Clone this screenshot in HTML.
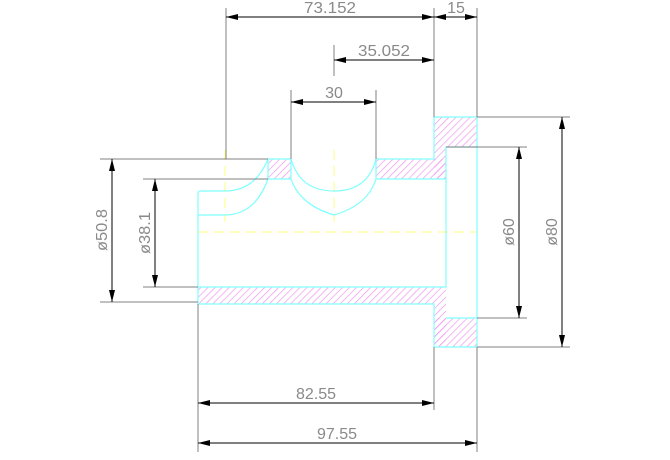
<!DOCTYPE html>
<html><head><style>
html,body{margin:0;padding:0;background:#fff;}
svg{display:block;}
text{font-family:"Liberation Sans",sans-serif;font-size:16px;fill:#8a8a8a;}
</style></head><body>
<svg width="670" height="460" viewBox="0 0 670 460" xmlns="http://www.w3.org/2000/svg">
<defs>
<pattern id="h" width="5" height="5" patternUnits="userSpaceOnUse" patternTransform="rotate(45)">
<line x1="0" y1="0" x2="0" y2="5" stroke="#f090f0" stroke-width="1.3"/>
</pattern>
<marker id="a" viewBox="0 0 12 6" refX="12" refY="3" markerWidth="12" markerHeight="6" orient="auto-start-reverse" markerUnits="userSpaceOnUse"><path d="M0,0L12,3L0,6z" fill="#000"/></marker>
</defs>
<rect width="670" height="460" fill="#fefffe"/>
<g fill="url(#h)">
<rect x="268" y="159" width="23" height="20"/>
<rect x="376" y="159" width="70" height="20"/>
<rect x="434" y="117" width="43" height="30"/>
<rect x="434" y="147" width="12" height="32"/>
<rect x="198" y="287" width="248" height="17"/>
<rect x="434" y="304" width="12" height="43"/>
<rect x="434" y="318" width="43" height="29"/>
</g>
<g stroke="#ffff80" stroke-width="1" stroke-dasharray="10,6" fill="none">
<line x1="198" y1="232" x2="477" y2="232"/>
<line x1="225" y1="150" x2="225" y2="222"/>
<line x1="334" y1="150" x2="334" y2="222"/>
</g>
<g stroke="#80ffff" stroke-width="1.2" fill="none">
<path d="M268,159H291M376,159H434V117H477V347H434V304H198V194Q198,191 201,191H225"/>
<path d="M198,287H446V147H477M446,318H477"/>
<path d="M268,159V179H291V159M376,159V179H446"/>
<path d="M198,215H225"/>
<path d="M268,159Q255,191 225,191M268,179Q255,215 225,215"/>
<path d="M291,159Q300,191 334,191Q368,191 376,159M291,179Q300,205 334,215Q368,205 376,179"/>
</g>
<g stroke="#808080" stroke-width="1" fill="none">
<path d="M226,8V159M434,8V117M477,8V117M334,45V76M291,90V159M376,90V159"/>
<path d="M198,304V452M434,347V410M477,347V452"/>
<path d="M100,159H268M143,179H268M100,302H198M143,287H198"/>
<path d="M477,117H570M446,147H527M477,318H527M477,347H570"/>
</g>
<g stroke="#000" stroke-width="1" fill="none" marker-start="url(#a)" marker-end="url(#a)">
<line x1="226" y1="17" x2="434" y2="17"/>
<line x1="434" y1="17" x2="477" y2="17"/>
<line x1="334" y1="60" x2="434" y2="60"/>
<line x1="291" y1="102" x2="376" y2="102"/>
<line x1="198" y1="403" x2="434" y2="403"/>
<line x1="198" y1="443" x2="477" y2="443"/>
<line x1="112" y1="159" x2="112" y2="302"/>
<line x1="155" y1="179" x2="155" y2="287"/>
<line x1="519" y1="147" x2="519" y2="318"/>
<line x1="562" y1="117" x2="562" y2="347"/>
</g>
<g text-anchor="middle">
<text x="330" y="13" textLength="52" lengthAdjust="spacingAndGlyphs">73.152</text>
<text x="456" y="13">15</text>
<text x="384" y="56" textLength="52" lengthAdjust="spacingAndGlyphs">35.052</text>
<text x="334" y="98">30</text>
<text x="316" y="399" textLength="40" lengthAdjust="spacingAndGlyphs">82.55</text>
<text x="337" y="439" textLength="40" lengthAdjust="spacingAndGlyphs">97.55</text>
<text transform="translate(107,230) rotate(-90)" textLength="42" lengthAdjust="spacingAndGlyphs">ø50.8</text>
<text transform="translate(150,233) rotate(-90)" textLength="42" lengthAdjust="spacingAndGlyphs">ø38.1</text>
<text transform="translate(514,232) rotate(-90)">ø60</text>
<text transform="translate(557,232) rotate(-90)">ø80</text>
</g>
</svg>
</body></html>
